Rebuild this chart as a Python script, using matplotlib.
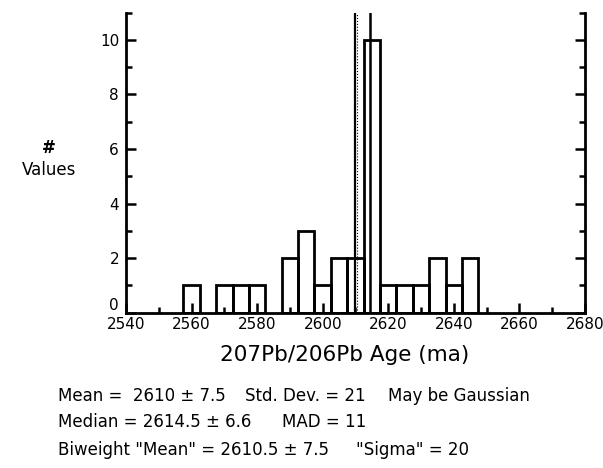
import matplotlib
matplotlib.use("Agg")
import matplotlib.pyplot as plt
from matplotlib.ticker import MultipleLocator

# Histogram of 207Pb/206Pb ages, 5 Ma bins
bin_centers = [2560, 2565, 2570, 2575, 2580, 2585, 2590, 2595, 2600, 2605,
               2610, 2615, 2620, 2625, 2630, 2635, 2640, 2645]
counts = [1, 0, 1, 1, 1, 0, 2, 3, 1, 2, 2, 10, 1, 1, 1, 2, 1, 2]
bin_width = 5

mean_age = 2610
median_age = 2614.5
biweight_mean = 2610.5

# Summary statistics, one row per line, columns laid out like a tab stop
stats_rows = [
    ["Mean =  2610 \u00b1 7.5", "Std. Dev. = 21", "May be Gaussian"],
    ["Median = 2614.5 \u00b1 6.6", "MAD = 11"],
    ["Biweight \"Mean\" = 2610.5 \u00b1 7.5", "\"Sigma\" = 20"],
]
stats_x = [
    [58, 245, 388],
    [58, 282],
    [58, 356],
]
stats_y = [396, 422, 450]

plt.rcParams['font.family'] = ['DejaVu Sans']

W, H = 603, 468
fig = plt.figure(figsize=(W / 100, H / 100), dpi=100)
ax = fig.add_axes([0.209, 0.332, 0.761, 0.641])

bars_x = [c for c, n in zip(bin_centers, counts) if n > 0]
bars_h = [n for n in counts if n > 0]
ax.bar(bars_x, bars_h, width=bin_width, fill=False, edgecolor='black',
       linewidth=2.0)

ax.axvline(mean_age, color='black', linewidth=1.6)
ax.axvline(biweight_mean, color='black', linewidth=0.8, linestyle=':')
ax.axvline(median_age, color='black', linewidth=1.8)

ax.set_xlim(2540, 2680)
ax.set_ylim(0, 11)
ax.xaxis.set_major_locator(MultipleLocator(20))
ax.xaxis.set_minor_locator(MultipleLocator(10))
ax.yaxis.set_major_locator(MultipleLocator(2))
ax.yaxis.set_minor_locator(MultipleLocator(1))
ax.spines['top'].set_visible(False)
for s in ('left', 'right', 'bottom'):
    ax.spines[s].set_linewidth(2.0)
ax.tick_params(which='both', direction='in', left=True, right=True,
               bottom=True, top=False, width=1.8, labelsize=11)
ax.tick_params(axis='y', pad=5)
ax.tick_params(axis='x', pad=3)
ax.tick_params(which='major', length=7)
ax.tick_params(which='minor', length=4.5)

ax.set_xlabel("207Pb/206Pb Age (ma)", fontsize=15.5)
ax.xaxis.label.set_verticalalignment('center')
ax.xaxis.set_label_coords(0.477, -0.142)
fig.text(0.081, 0.684, "#", ha='center', va='center', fontsize=12,
         fontweight='bold')
fig.text(0.081, 0.636, "Values", ha='center', va='center', fontsize=12)

# the zero label sits on the baseline rather than centred on it
fig.canvas.draw()
for t in ax.yaxis.get_major_ticks():
    if t.get_loc() == 0:
        t.label1.set_verticalalignment('bottom')

for row, xs, y in zip(stats_rows, stats_x, stats_y):
    for txt, x in zip(row, xs):
        fig.text(x / W, 1 - y / H, txt, ha='left', va='center',
                 fontsize=12)

fig.savefig("out.png", dpi=100)
